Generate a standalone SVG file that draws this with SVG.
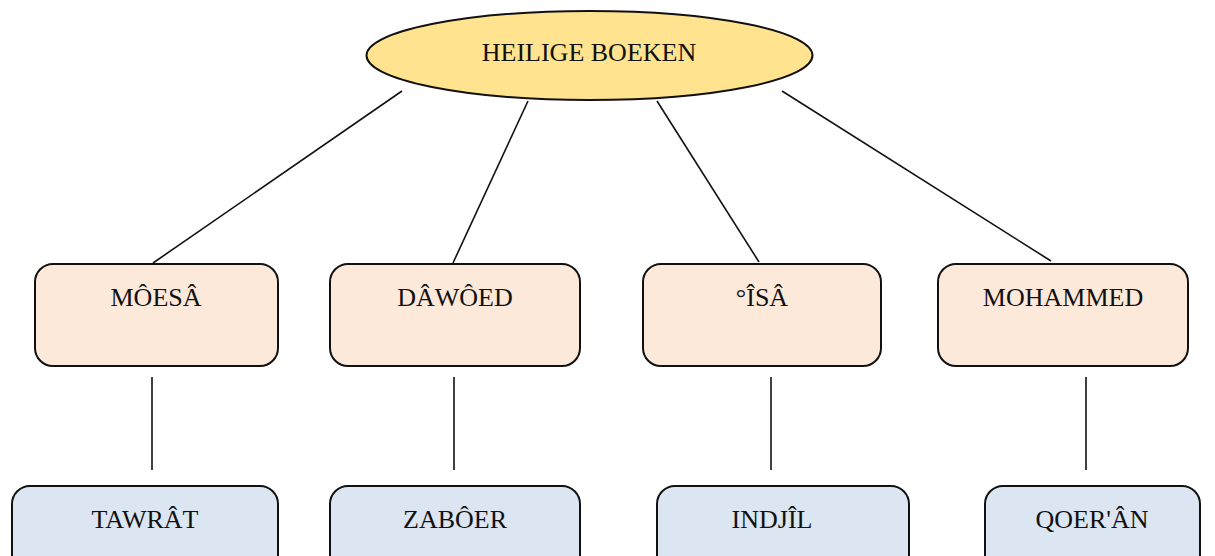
<svg xmlns="http://www.w3.org/2000/svg" width="1215" height="556" viewBox="0 0 1215 556">
<style>
text{font-family:"Liberation Serif","Times New Roman",serif;font-size:26px;fill:#111;text-anchor:middle}
.p{fill:#FDE9DA;stroke:#111;stroke-width:2}
.b{fill:#DCE6F2;stroke:#111;stroke-width:2}
.c line{stroke:#111;stroke-width:1.6}
</style>
<rect width="1215" height="556" fill="#fff"/>
<g class="c" id="connectors">
<line x1="402" y1="91" x2="153" y2="263"/>
<line x1="528" y1="101" x2="453" y2="263"/>
<line x1="657" y1="101" x2="759" y2="262"/>
<line x1="782" y1="91" x2="1051" y2="261"/>
<line x1="152" y1="377" x2="152" y2="470"/>
<line x1="454" y1="377" x2="454" y2="470"/>
<line x1="771" y1="377" x2="771" y2="470"/>
<line x1="1086" y1="377" x2="1086" y2="470"/>
</g>
<g id="root">
<ellipse cx="589.5" cy="55.5" rx="223" ry="44.5" fill="#FFE38E" stroke="#111" stroke-width="2"/>
<text x="589" y="61">HEILIGE BOEKEN</text>
</g>
<g id="moesa"><rect class="p" x="35" y="264" width="243" height="102" rx="18"/><text x="156" y="306">MÔESÂ</text></g>
<g id="dawoed"><rect class="p" x="330" y="264" width="250" height="102" rx="18"/><text x="455" y="306">DÂWÔED</text></g>
<g id="isa"><rect class="p" x="643" y="264" width="238" height="102" rx="18"/><text x="762" y="306">°ÎSÂ</text></g>
<g id="mohammed"><rect class="p" x="938" y="264" width="250" height="102" rx="18"/><text x="1063" y="306">MOHAMMED</text></g>
<g id="tawrat"><rect class="b" x="12" y="486" width="266" height="100" rx="18"/><text x="145" y="528">TAWRÂT</text></g>
<g id="zaboer"><rect class="b" x="330" y="486" width="250" height="100" rx="18"/><text x="455" y="528">ZABÔER</text></g>
<g id="indjil"><rect class="b" x="657" y="486" width="252" height="100" rx="18"/><text x="772" y="528">INDJÎL</text></g>
<g id="qoeran"><rect class="b" x="985" y="486" width="215" height="100" rx="18"/><text x="1092" y="528">QOER'ÂN</text></g>
</svg>
